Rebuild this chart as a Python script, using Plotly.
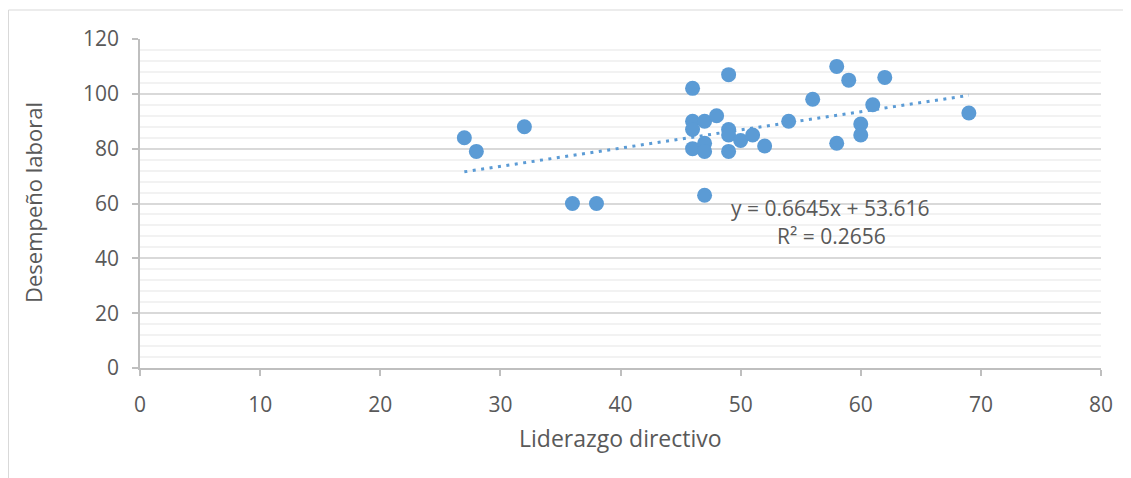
import plotly.graph_objects as go

# Data
liderazgo = [27, 28, 32, 36, 38, 46, 46, 46, 46, 47, 47, 47, 47, 48, 49, 49, 49, 49,
             50, 51, 52, 54, 56, 58, 58, 59, 60, 60, 61, 62, 69]
desempeno = [84, 79, 88, 60, 60, 102, 90, 87, 80, 90, 82, 79, 63, 92, 107, 87, 85, 79,
             83, 85, 81, 90, 98, 110, 82, 105, 89, 85, 96, 106, 93]

# Trendline coefficients as displayed on the chart
slope = 0.6645
intercept = 53.616
r2 = 0.2656

x_tr = [min(liderazgo), max(liderazgo)]
y_tr = [slope * v + intercept for v in x_tr]

TXT = "#595959"
FONT = "Open Sans"
BLUE = "#5B9BD5"

fig = go.Figure()
fig.add_trace(go.Scatter(
    x=x_tr, y=y_tr, mode="lines",
    line=dict(color=BLUE, width=3, dash="3px,5.5px"),
    hoverinfo="skip", showlegend=False))
fig.add_trace(go.Scatter(
    x=liderazgo, y=desempeno, mode="markers",
    marker=dict(color=BLUE, size=15, line=dict(width=0)),
    showlegend=False))

OFF = 8  # page offset of the figure
W, H = 1131, 478
L, T = 140 - OFF, 39 - OFF
pw, ph = 961, 329
R = W - L - pw
B = H - T - ph


def px(xp):
    return (xp - OFF - L) / pw


def py(yp):
    return (T + ph - (yp - OFF)) / ph


fig.update_layout(
    width=W, height=H,
    margin=dict(l=L, r=R, t=T, b=B),
    paper_bgcolor="white", plot_bgcolor="white",
    font=dict(family=FONT, color=TXT, size=20),
    xaxis=dict(
        range=[0, 80], dtick=10, tick0=0,
        showgrid=False, zeroline=False,
        showline=True, linecolor="#BFBFBF", linewidth=1.5,
        ticks="outside", ticklen=6, tickcolor="#BFBFBF", tickwidth=1.5,
        ticklabelstandoff=11,
        tickfont=dict(size=21, color=TXT, family=FONT),
    ),
    yaxis=dict(
        range=[0, 120], dtick=20, tick0=0,
        showgrid=True, gridcolor="#D9D9D9", gridwidth=1.5,
        minor=dict(dtick=4, showgrid=True, gridcolor="#F2F2F2", gridwidth=1.5),
        zeroline=False,
        showline=True, linecolor="#BFBFBF", linewidth=1.5,
        ticks="outside", ticklen=6, tickcolor="#BFBFBF", tickwidth=1.5,
        ticklabelstandoff=9,
        tickfont=dict(size=21, color=TXT, family=FONT),
    ),
    shapes=[dict(
        type="rect", xref="paper", yref="paper", layer="below",
        x0=px(8.5), x1=px(W + 30), y0=py(H + 30), y1=py(10),
        line=dict(color="#D9D9D9", width=1), fillcolor="rgba(0,0,0,0)")],
    annotations=[
        dict(x=px(830), y=py(208), xref="paper", yref="paper",
             text="y = 0.6645x + 53.616", showarrow=False, xanchor="center", yanchor="middle",
             font=dict(size=21, color=TXT, family=FONT)),
        dict(x=px(831), y=py(236), xref="paper", yref="paper",
             text=f"R² = {r2}", showarrow=False, xanchor="center", yanchor="middle",
             font=dict(size=21, color=TXT, family=FONT)),
        dict(x=px(620), y=py(438), xref="paper", yref="paper",
             text="Liderazgo directivo", showarrow=False, xanchor="center", yanchor="middle",
             font=dict(size=23, color=TXT, family=FONT)),
        dict(x=px(33), y=py(203), xref="paper", yref="paper", textangle=-90,
             text="Desempeño laboral", showarrow=False, xanchor="center", yanchor="middle",
             font=dict(size=22, color=TXT, family=FONT)),
    ],
)

fig.write_html("out.html")
